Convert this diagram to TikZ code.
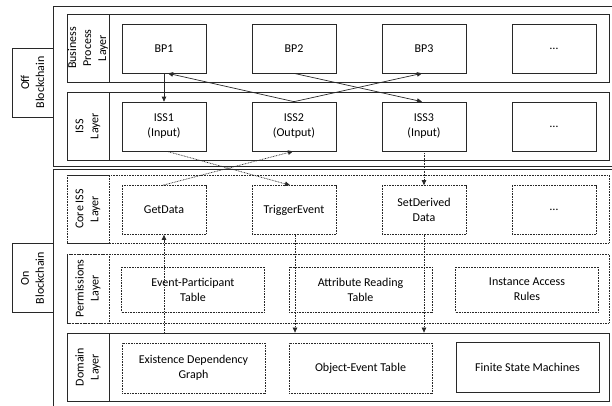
\documentclass[tikz,border=0pt]{standalone}
\usepackage{fontspec}
\setmainfont{Carlito}
\usetikzlibrary{arrows.meta, calc, positioning}
\definecolor{linegray}{RGB}{40,40,40}

\begin{document}
\begin{tikzpicture}[x=1pt, y=-1pt, >={Triangle[length=5pt, width=4.5pt]},
    font=\fontsize{12}{15}\selectfont,
    every node/.style={align=center, inner sep=1pt},
    dots/.style={dash pattern=on 0.8pt off 0.8pt},
    cell/.style={draw=linegray, line width=0.7pt, minimum width=84pt, minimum height=49pt},
    widecell/.style={cell, minimum width=143pt},
    layer/.style={draw=linegray, line width=0.8pt, minimum width=542pt, minimum height=68pt},
    tag/.style={draw=linegray, line width=0.8pt, rotate=90, minimum width=68pt, minimum height=42pt},
    chain/.style={draw=linegray, line width=0.8pt, rotate=90, minimum width=69pt, minimum height=41pt},
    link/.style={->, linegray, line width=0.7pt},
    dotlink/.style={link, dots}]
    \useasboundingbox (0,0) rectangle (612,405);
    \clip (0,0) rectangle (612,405);

    % Outer frames
    \draw[linegray, line width=0.9pt] (53,6) rectangle (620,166);
    \draw[linegray, line width=0.9pt] (53,169) rectangle (620,420);
    \node[chain] (off) at (32.5,82.5) {Off\\Blockchain};
    \node[chain] (on) at (32.5,278) {On\\Blockchain};

    % Layers
    \node[layer] (bpl) at (338,48) {};
    \node[tag] (bptag) at (88,48) {Business\\Process\\Layer};
    \node[layer] (issl) at (338,126) {};
    \node[tag] (isstag) at (88,126) {ISS\\Layer};
    \node[layer, dots] (corel) at (338,209) {};
    \node[tag, dots] (coretag) at (88,209) {Core ISS\\Layer};
    \node[layer, dots, minimum height=69pt] (perml) at (338,288.5) {};
    \node[tag, dots, minimum width=69pt] (permtag) at (88,288.5) {Permissions\\Layer};
    \node[layer] (doml) at (338,367) {};
    \node[tag] (domtag) at (88,367) {Domain\\Layer};

    % Business processes
    \node[cell] (bp1) at (164,48.5) {BP1};
    \node[cell] (bp2) at (294,48.5) {BP2};
    \node[cell] (bp3) at (424,48.5) {BP3};
    \node[cell] (bp4) at (554,48.5) {\ldots};

    % ISS
    \node[cell] (iss1) at (164,126.5) {ISS1\\(Input)};
    \node[cell] (iss2) at (294,126.5) {ISS2\\(Output)};
    \node[cell] (iss3) at (424,126.5) {ISS3\\(Input)};
    \node[cell] (iss4) at (554,126.5) {\ldots};

    % Core ISS
    \node[cell, dots] (getd) at (164,210) {GetData};
    \node[cell, dots] (trig) at (294,210) {TriggerEvent};
    \node[cell, dots] (setd) at (424,210) {SetDerived\\Data};
    \node[cell, dots] (core4) at (554,210) {\ldots};

    % Permissions
    \node[widecell, dots, minimum height=45pt] (ept) at (193,289.5) {Event-Participant\\Table};
    \node[widecell, dots, minimum height=45pt] (art) at (360.5,289.5) {Attribute Reading\\Table};
    \node[widecell, dots, minimum height=45pt] (iar) at (527,289.5) {Instance Access\\Rules};

    % Domain
    \node[widecell, dots, minimum height=50pt] (edg) at (193.5,368) {Existence Dependency\\Graph};
    \node[widecell, dots, minimum height=50pt] (oet) at (360.5,368) {Object-Event Table};
    \node[widecell, minimum height=50pt] (fsm) at (527.5,367) {Finite State Machines};

    % Off-chain links
    \draw[link] (bp1.south) -- (iss1.north);
    \draw[link] (iss2.north) -- ($(bp1.south)+(4,0)$);
    \draw[link] (iss2.north) -- ($(bp3.south)-(2,0)$);
    \draw[link] (bp2.south) -- ($(iss3.north)-(2,0)$);

    % On-chain links
    \draw[dotlink] ($(iss1.south)+(3,0)$) -- ($(trig.north)-(4,0)$);
    \draw[dotlink] ($(getd.north)-(1,0)$) -- ($(iss2.south)-(1,0)$);
    \draw[dotlink] (iss3.south) -- (setd.north);
    \draw[dotlink] (getd.south |- doml.north) -- (getd.south);
    \draw[dotlink] ($(trig.south)+(1,0)$) -- ($(trig.south |- doml.north)+(1,0)$);
    \draw[dotlink] (setd.south) -- (setd.south |- doml.north);
\end{tikzpicture}
\end{document}
